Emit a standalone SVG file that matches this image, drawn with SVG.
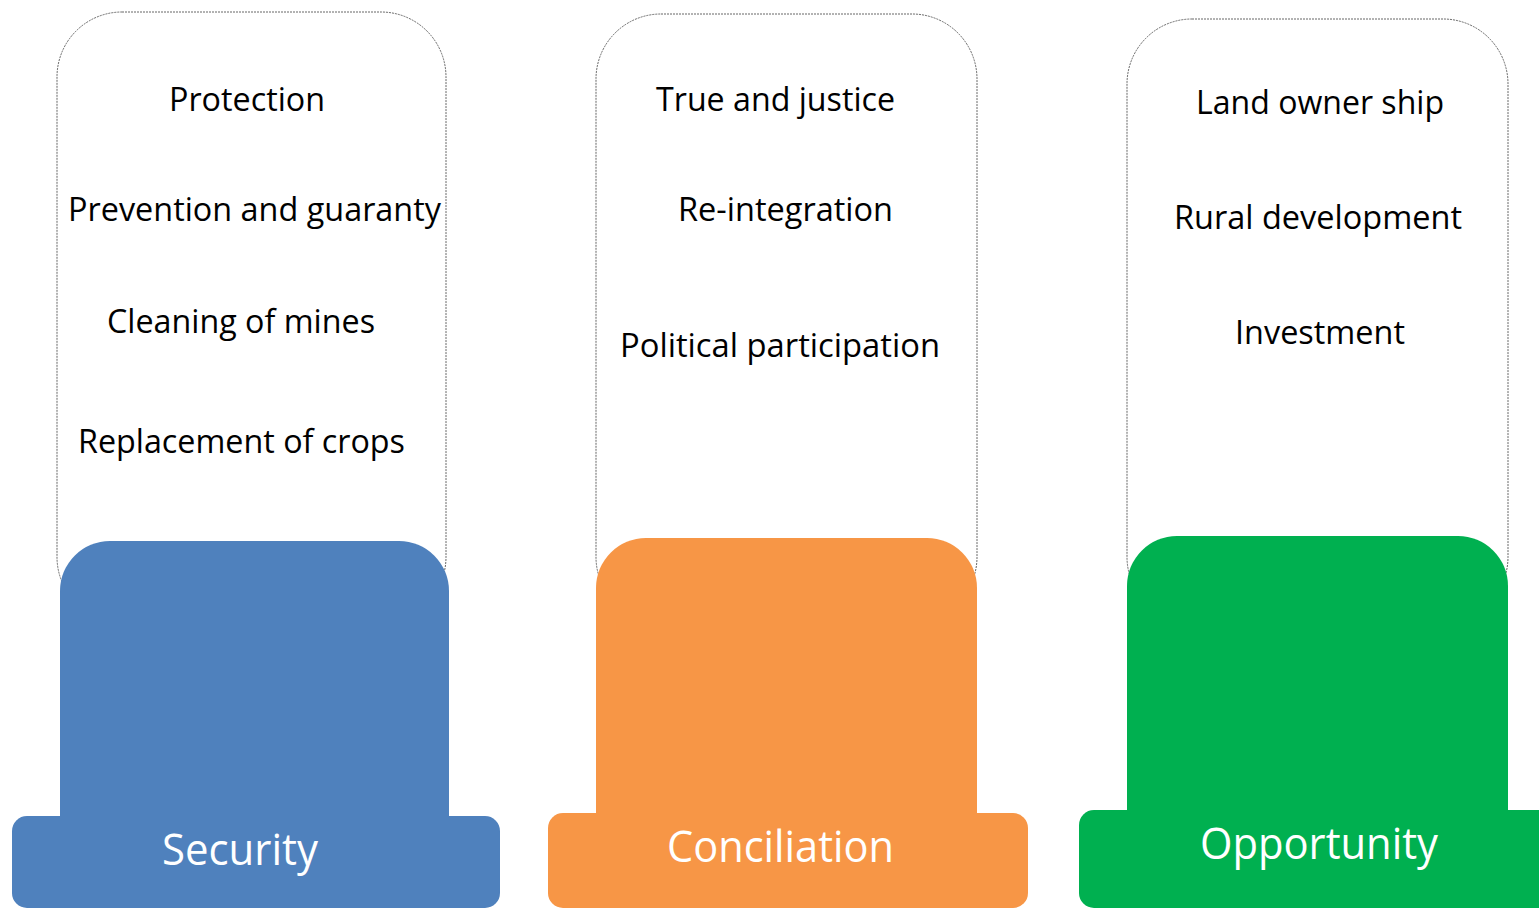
<svg xmlns="http://www.w3.org/2000/svg" width="1539" height="908" viewBox="0 0 1539 908">
  <style>
    .frame { fill: #ffffff; stroke: #666666; stroke-width: 1; stroke-dasharray: 2 1; }
    .item { font-family: "Open Sans", "Liberation Sans", sans-serif; font-size: 32px; fill: #000000; text-anchor: middle; }
    .pillar-label { font-family: "Open Sans", "Liberation Sans", sans-serif; font-size: 44px; fill: #ffffff; text-anchor: middle; }
    .blue { fill: #4F81BD; }
    .orange { fill: #F79646; }
    .green { fill: #00B050; }
  </style>

  <g id="connectors"></g>

  <!-- Security pillar -->
  <g id="security">
    <rect class="frame" x="57" y="12" width="389" height="610" rx="65" ry="65"/>
    <text class="item" x="247" y="111" textLength="156" lengthAdjust="spacingAndGlyphs">Protection</text>
    <text class="item" x="254.5" y="221" textLength="373" lengthAdjust="spacingAndGlyphs">Prevention and guaranty</text>
    <text class="item" x="241" y="333" textLength="268" lengthAdjust="spacingAndGlyphs">Cleaning of mines</text>
    <text class="item" x="241.5" y="453" textLength="327" lengthAdjust="spacingAndGlyphs">Replacement of crops</text>
    <path class="blue" d="M60 830 V591 A50 50 0 0 1 110 541 H399 A50 50 0 0 1 449 591 V830 Z"/>
    <rect class="blue" x="12" y="816" width="488" height="92" rx="15" ry="15"/>
    <text class="pillar-label" x="240" y="865" textLength="156" lengthAdjust="spacingAndGlyphs">Security</text>
  </g>

  <!-- Conciliation pillar -->
  <g id="conciliation">
    <rect class="frame" x="596" y="14" width="381" height="608" rx="65" ry="65"/>
    <text class="item" x="775.5" y="111" textLength="239" lengthAdjust="spacingAndGlyphs">True and justice</text>
    <text class="item" x="785.5" y="221" textLength="215" lengthAdjust="spacingAndGlyphs">Re-integration</text>
    <text class="item" x="780" y="357" textLength="320" lengthAdjust="spacingAndGlyphs">Political participation</text>
    <path class="orange" d="M596 828 V588 A50 50 0 0 1 646 538 H927 A50 50 0 0 1 977 588 V828 Z"/>
    <rect class="orange" x="548" y="813" width="480" height="95" rx="15" ry="15"/>
    <text class="pillar-label" x="780.5" y="862" textLength="227" lengthAdjust="spacingAndGlyphs">Conciliation</text>
  </g>

  <!-- Opportunity pillar -->
  <g id="opportunity">
    <rect class="frame" x="1127" y="19" width="381" height="603" rx="65" ry="65"/>
    <text class="item" x="1320" y="114" textLength="248" lengthAdjust="spacingAndGlyphs">Land owner ship</text>
    <text class="item" x="1318" y="229" textLength="288" lengthAdjust="spacingAndGlyphs">Rural development</text>
    <text class="item" x="1320" y="344" textLength="170" lengthAdjust="spacingAndGlyphs">Investment</text>
    <path class="green" d="M1127 825 V586 A50 50 0 0 1 1177 536 H1458 A50 50 0 0 1 1508 586 V825 Z"/>
    <rect class="green" x="1079" y="810" width="490" height="98" rx="15" ry="15"/>
    <text class="pillar-label" x="1319" y="859" textLength="238" lengthAdjust="spacingAndGlyphs">Opportunity</text>
  </g>
</svg>
